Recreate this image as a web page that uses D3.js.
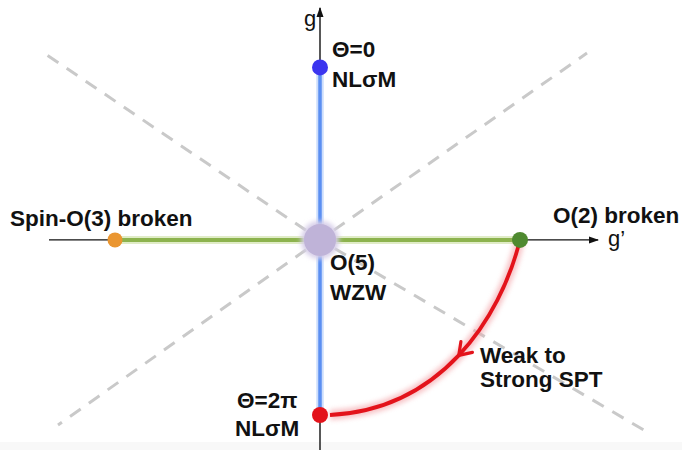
<!DOCTYPE html>
<html>
<head>
<meta charset="utf-8">
<script src="https://cdn.jsdelivr.net/npm/d3@7"></script>
<style>
  body { margin: 0; background: #fff; }
  text { font-family: "Liberation Sans", Arial, sans-serif; fill: #111; }
  .lbl { font-weight: bold; font-size: 22.5px; }
  .ax { font-size: 22px; }
</style>
</head>
<body>
<div id="chart"></div>
<script>
// phase points in (g', g) coordinates
var pointNames = ["Θ=0", "Spin-O(3)", "O(2)", "Θ=2π", "O(5)"];
var pointGp = [0, -1.025, 1.0, 0, 0];
var pointG = [0.985, 0, 0, -1.0, 0];

// dashed guide rays leaving the origin
var rayGp = [-1.365, 1.335, -1.31, 1.64];
var rayG = [1.056, 1.067, -1.057, -1.1];

// weak-to-strong SPT path (bezier controls)
var pathGp = [1.0, 0.9, 0.6, 0.05];
var pathG = [0, -0.456, -0.97, -1.0];

var labelLines = [
    ["Θ=0", "NLσM"],
    ["Spin-O(3) broken"],
    ["O(2) broken"],
    ["Θ=2π", "NLσM"],
    ["O(5)", "WZW"],
    ["Weak to", "Strong SPT"]
];

var width = 682, height = 450;

var svg = d3.select("#chart")
            .append("svg")
            .attr("width", width)
            .attr("height", height);

var x = d3.scaleLinear().domain([-1.6, 1.81]).range([0, width]);
var y = d3.scaleLinear().domain([-1.2, 1.37]).range([height, 0]);

var defs = svg.append("defs");
defs.append("filter").attr("id", "blur").attr("x", "-50%").attr("y", "-50%")
    .attr("width", "200%").attr("height", "200%")
    .append("feGaussianBlur").attr("stdDeviation", 2.5);
defs.append("marker").attr("id", "tri")
    .attr("viewBox", "0 0 10 10").attr("refX", 9).attr("refY", 5)
    .attr("markerWidth", 10).attr("markerHeight", 10)
    .attr("markerUnits", "userSpaceOnUse").attr("orient", "auto")
    .append("path").attr("d", "M0,1.5 L10,5 L0,8.5 Z").attr("fill", "#111");

// faint strip at the bottom of the original image
svg.append("rect").attr("x", 0).attr("y", 442).attr("width", width).attr("height", 8)
   .attr("fill", "#f8f8f8");

// dashed guides
svg.selectAll(".ray")
   .data(rayGp)
   .enter()
   .append("line")
       .attr("x1", x(0)).attr("y1", y(0))
       .attr("x2", function(d) { return x(d); })
       .attr("y2", function(d, i) { return y(rayG[i]); })
       .attr("stroke", "#c9c9c9")
       .attr("stroke-width", 3)
       .attr("stroke-dasharray", "13,10")
       .attr("stroke-dashoffset", 6);

// axes
svg.append("line")
   .attr("x1", x(-1.355)).attr("y1", y(0)).attr("x2", x(1.39)).attr("y2", y(0))
   .attr("stroke", "#111").attr("stroke-width", 1.4).attr("marker-end", "url(#tri)");
svg.append("line")
   .attr("x1", x(0)).attr("y1", height).attr("x2", x(0)).attr("y2", y(1.325))
   .attr("stroke", "#111").attr("stroke-width", 1.4).attr("marker-end", "url(#tri)");

// phase lines (green: g'-axis segment, blue: g-axis segment)
function seg(a, b, col, halo, w) {
    var g = svg.append("g");
    g.append("line")
     .attr("x1", x(pointGp[a])).attr("y1", y(pointG[a]))
     .attr("x2", x(pointGp[b])).attr("y2", y(pointG[b]))
     .attr("stroke", halo).attr("stroke-width", w + 4).attr("opacity", 0.7);
    g.append("line")
     .attr("x1", x(pointGp[a])).attr("y1", y(pointG[a]))
     .attr("x2", x(pointGp[b])).attr("y2", y(pointG[b]))
     .attr("stroke", col).attr("stroke-width", w);
}
seg(0, 3, "#5b8ff2", "#b9d0fa", 3.5);
seg(1, 2, "#8db34e", "#d3e5b0", 4);

// red path
var p = d3.path();
p.moveTo(x(pathGp[0]), y(pathG[0]));
p.bezierCurveTo(x(pathGp[1]), y(pathG[1]), x(pathGp[2]), y(pathG[2]), x(pathGp[3]), y(pathG[3]));
svg.append("path").attr("d", p.toString()).attr("fill", "none")
   .attr("stroke", "#f3a3a8").attr("stroke-width", 10).attr("opacity", 0.65)
   .attr("filter", "url(#blur)");
svg.append("path").attr("d", p.toString()).attr("fill", "none")
   .attr("stroke", "#e3131b").attr("stroke-width", 3.8);

// arrow chevron at mid-curve
function bez(v, t) {
    var u = 1 - t;
    return u*u*u*v[0] + 3*u*u*t*v[1] + 3*u*t*t*v[2] + t*t*t*v[3];
}
var px = pathGp.map(x), py = pathG.map(y);
var t = 0.5, tx = bez(px, t), ty = bez(py, t);
var dx = bez(px, t + 0.01) - bez(px, t - 0.01), dy = bez(py, t + 0.01) - bez(py, t - 0.01);
var ang = Math.atan2(dy, dx);
var armL = 14, spread = 0.6;
var chev = d3.path();
chev.moveTo(tx - armL * Math.cos(ang - spread), ty - armL * Math.sin(ang - spread));
chev.lineTo(tx, ty);
chev.lineTo(tx - armL * Math.cos(ang + spread), ty - armL * Math.sin(ang + spread));
svg.append("path").attr("d", chev.toString()).attr("fill", "none")
   .attr("stroke", "#e3131b").attr("stroke-width", 3.2).attr("stroke-linecap", "round")
   .attr("stroke-linejoin", "round");

// points
var dotColors = ["#3b35ef", "#ea9631", "#4f8a30", "#e3131b", "#bfb3d8"];
var dotR = [8, 7.5, 8, 8, 16];
svg.append("circle").attr("cx", x(0)).attr("cy", y(0)).attr("r", 19)
   .attr("fill", "#d6cde8").attr("filter", "url(#blur)");
svg.selectAll(".dot")
   .data(pointNames)
   .enter()
   .append("circle")
       .attr("cx", function(d, i) { return x(pointGp[i]); })
       .attr("cy", function(d, i) { return y(pointG[i]); })
       .attr("r", function(d, i) { return dotR[i]; })
       .attr("fill", function(d, i) { return dotColors[i]; });

// labels (offsets in pixels from anchor point)
var labelAnchor = [[332, 57], [10, 226], [553, 223], [237, 408], [330, 270], [480, 363]];
var lineGap = [30, 0, 0, 28, 30, 24];
labelLines.forEach(function(lines, i) {
    var t = svg.append("text").attr("class", "lbl")
               .attr("x", labelAnchor[i][0]).attr("y", labelAnchor[i][1]);
    lines.forEach(function(s, j) {
        t.append("tspan").attr("x", labelAnchor[i][0] - (i === 3 && j === 1 ? 2 : 0))
         .attr("dy", j === 0 ? 0 : lineGap[i]).text(s);
    });
});

// axis names
svg.append("text").attr("class", "ax").attr("x", 304).attr("y", 26).text("g");
svg.append("text").attr("class", "ax").attr("x", 608).attr("y", 246).text("g’");
</script>
</body>
</html>
